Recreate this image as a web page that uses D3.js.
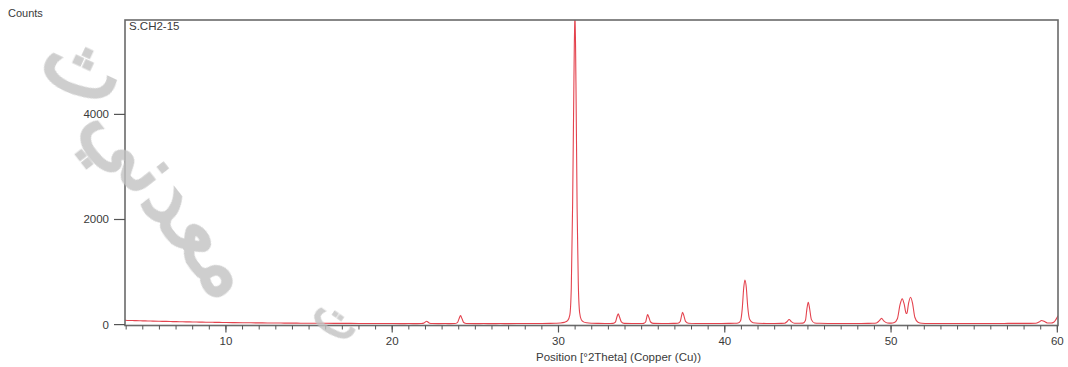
<!DOCTYPE html>
<html>
<head>
<meta charset="utf-8">
<script src="https://cdn.jsdelivr.net/npm/d3@7/dist/d3.min.js"></script>
<style>
  html, body { margin: 0; padding: 0; background: #fff; }
  svg { display: block; }
  text { font-family: "Liberation Sans", Arial, sans-serif; fill: #3a3a3a; }
</style>
</head>
<body>
<svg id="chart" width="1068" height="367"></svg>
<script>
// Sample name and axis titles
const sampleName = "S.CH2-15";
const yTitle = "Counts";
const xTitle = "Position [°2Theta] (Copper (Cu))";

// Axis ticks
const xMajorTicks = [10, 20, 30, 40, 50, 60];
const xMinorTicks = d3.range(4, 61, 1);
const yTicks = [0, 2000, 4000];

// Measured diffraction profile: [2Theta (deg), counts]
const pattern = [
  [3.93, 82], [4.2, 78], [4.5, 76], [4.8, 73], [5.0, 71], [5.3, 70], [5.6, 66], [6.0, 63],
  [6.4, 61], [6.8, 57], [7.2, 55], [7.6, 52], [8.0, 51], [8.4, 48], [8.8, 46], [9.2, 44],
  [9.6, 42], [10.0, 39], [10.5, 38], [11.0, 35], [11.5, 34], [12.0, 33], [12.5, 31], [13.0, 31],
  [13.5, 29], [14.0, 28], [14.5, 27], [15.0, 27], [15.5, 25], [16.0, 25], [16.5, 24], [17.0, 23],
  [17.5, 23], [18.0, 22], [18.5, 21], [19.0, 21], [19.5, 20], [20.0, 20], [20.5, 19], [21.0, 20],
  [21.5, 19], [21.75, 20], [21.9, 28], [22.0, 52], [22.07, 64], [22.15, 48], [22.25, 27], [22.4, 20],
  [22.8, 19], [23.2, 20], [23.5, 19], [23.75, 20], [23.92, 38], [24.02, 112], [24.11, 170], [24.2, 110],
  [24.3, 40], [24.47, 21], [25.0, 19], [25.5, 20], [26.0, 19], [26.5, 20], [27.0, 19], [27.5, 20],
  [28.0, 20], [28.5, 21], [29.0, 21], [29.5, 23], [29.8, 26], [30.1, 30], [30.35, 42], [30.55, 75],
  [30.68, 180], [30.77, 700], [30.85, 2300], [30.93, 4700], [30.99, 6000], [31.05, 4600], [31.12, 2200],
  [31.19, 800], [31.27, 230], [31.37, 95], [31.5, 52], [31.7, 34], [32.0, 26], [32.4, 23], [32.8, 22],
  [33.1, 22], [33.28, 23], [33.42, 48], [33.51, 140], [33.59, 205], [33.67, 145], [33.78, 52], [33.95, 24],
  [34.4, 21], [34.8, 21], [35.05, 22], [35.12, 24], [35.24, 50], [35.3, 130], [35.36, 190], [35.44, 135],
  [35.54, 50], [35.72, 23], [36.2, 21], [36.6, 22], [37.0, 23], [37.18, 26], [37.32, 60], [37.4, 165],
  [37.46, 235], [37.54, 170], [37.64, 62], [37.82, 26], [38.3, 22], [38.8, 21], [39.3, 22], [39.8, 22],
  [40.3, 23], [40.6, 26], [40.8, 32], [40.95, 75], [41.05, 300], [41.14, 700], [41.21, 850], [41.29, 720],
  [41.38, 340], [41.5, 95], [41.7, 34], [42.0, 25], [42.5, 22], [43.0, 22], [43.4, 23], [43.6, 26],
  [43.74, 55], [43.87, 98], [44.0, 58], [44.2, 26], [44.5, 25], [44.7, 28], [44.85, 80], [44.94, 300],
  [45.02, 425], [45.1, 310], [45.21, 95], [45.4, 32], [45.7, 25], [46.2, 22], [46.7, 22], [47.2, 21],
  [47.7, 22], [48.2, 22], [48.6, 23], [48.9, 25], [49.12, 32], [49.28, 70], [49.43, 118], [49.56, 72],
  [49.78, 32], [50.0, 28], [50.2, 40], [50.38, 110], [50.54, 380], [50.67, 490], [50.79, 390],
  [50.9, 220], [50.95, 210], [51.05, 400], [51.17, 520], [51.29, 410], [51.43, 140], [51.62, 45],
  [51.85, 26], [52.3, 22], [52.8, 21], [53.3, 22], [53.8, 21], [54.3, 22], [54.8, 21], [55.3, 22],
  [55.8, 22], [56.3, 21], [56.8, 22], [57.3, 23], [57.8, 23], [58.3, 24], [58.7, 26], [58.9, 50],
  [59.05, 78], [59.2, 62], [59.4, 32], [59.62, 30], [59.78, 45], [59.9, 90], [60.04, 170]
];

const svg = d3.select("#chart");
const plot = { left: 125, right: 1058, top: 20, bottom: 325.5 };

const x = d3.scaleLinear().domain([3.93, 60.04]).range([plot.left, plot.right]);
const y = d3.scaleLinear().domain([-17, 5796]).range([plot.bottom, plot.top]);

// Clip the trace to the plot frame
svg.append("defs").append("clipPath").attr("id", "plotClip")
  .append("rect")
  .attr("x", plot.left).attr("y", plot.top)
  .attr("width", plot.right - plot.left).attr("height", plot.bottom - plot.top);

// Diffraction trace
const line = d3.line()
  .x(d => x(d[0]))
  .y(d => y(d[1]))
  .curve(d3.curveMonotoneX);

svg.append("path")
  .datum(pattern)
  .attr("clip-path", "url(#plotClip)")
  .attr("fill", "none")
  .attr("stroke", "#e4434e")
  .attr("stroke-width", 1.1)
  .attr("stroke-linejoin", "round")
  .attr("d", line);

// Frame
svg.append("rect")
  .attr("x", plot.left).attr("y", plot.top)
  .attr("width", plot.right - plot.left).attr("height", plot.bottom - plot.top)
  .attr("fill", "none")
  .attr("stroke", "#6a6a6a")
  .attr("stroke-width", 1.6);

// X axis: minor and major ticks
const xAxisG = svg.append("g").attr("transform", `translate(0,${plot.bottom})`);
xAxisG.selectAll("line.minor").data(xMinorTicks).join("line")
  .attr("class", "minor")
  .attr("x1", d => x(d)).attr("x2", d => x(d))
  .attr("y1", 0).attr("y2", 4)
  .attr("stroke", "#555").attr("stroke-width", 1);
xAxisG.selectAll("line.major").data(xMajorTicks).join("line")
  .attr("class", "major")
  .attr("x1", d => x(d)).attr("x2", d => x(d))
  .attr("y1", 0).attr("y2", 7)
  .attr("stroke", "#555").attr("stroke-width", 1.2);
xAxisG.selectAll("text").data(xMajorTicks).join("text")
  .attr("x", d => x(d))
  .attr("y", 19.5)
  .attr("text-anchor", "middle")
  .attr("font-size", 11.5)
  .text(d => d);

// Y axis ticks and labels
const yAxisG = svg.append("g");
yAxisG.selectAll("line").data(yTicks).join("line")
  .attr("x1", plot.left - 11).attr("x2", plot.left)
  .attr("y1", d => y(d)).attr("y2", d => y(d))
  .attr("stroke", "#555").attr("stroke-width", 1.2);
yAxisG.selectAll("text").data(yTicks).join("text")
  .attr("x", plot.left - 16)
  .attr("y", d => y(d) + 4)
  .attr("text-anchor", "end")
  .attr("font-size", 11.5)
  .text(d => d);

// Titles
svg.append("text").attr("x", 8).attr("y", 17).attr("font-size", 11).text(yTitle);
svg.append("text").attr("x", 129).attr("y", 30).attr("font-size", 11.5).text(sampleName);
svg.append("text")
  .attr("x", (plot.left + plot.right) / 2 + 27)
  .attr("y", 361)
  .attr("text-anchor", "middle")
  .attr("font-size", 11.5)
  .text(xTitle);

// Watermark
const wm = svg.append("g").attr("opacity", 0.8)
  .style("font-family", "'DejaVu Sans', sans-serif")
  .style("font-weight", "bold");
wm.append("text")
  .attr("transform", "translate(150,215) rotate(52)")
  .attr("text-anchor", "middle")
  .attr("font-size", 86)
  .style("fill", "#c2c2c2")
  .text("معدني");
wm.append("text")
  .attr("transform", "translate(72,92) rotate(25)")
  .attr("text-anchor", "middle")
  .attr("font-size", 88)
  .style("fill", "#c2c2c2")
  .text("ث");
wm.append("text")
  .attr("transform", "translate(328,332) rotate(35)")
  .attr("text-anchor", "middle")
  .attr("font-size", 52)
  .style("fill", "#c2c2c2")
  .text("ت");
</script>
</body>
</html>
